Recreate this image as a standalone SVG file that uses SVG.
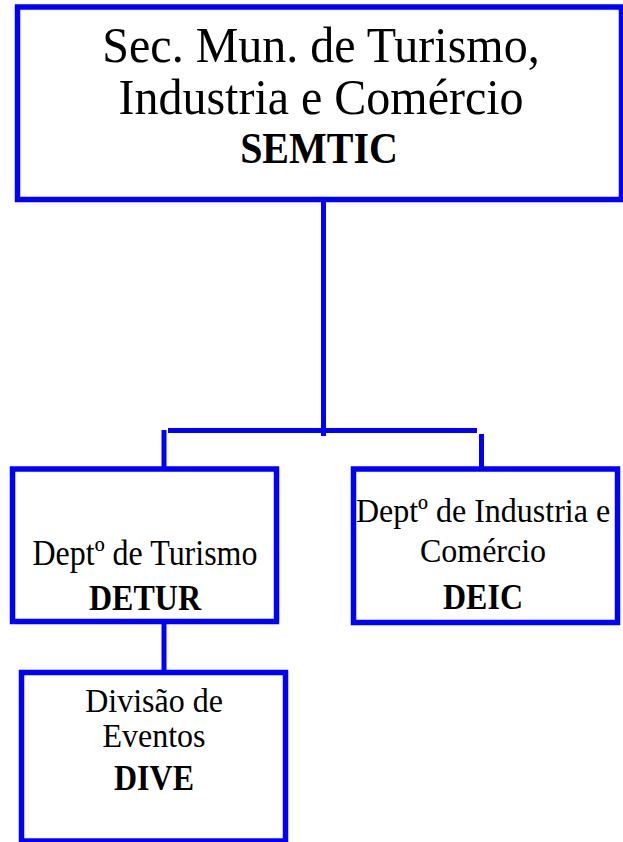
<svg xmlns="http://www.w3.org/2000/svg" width="623" height="842" viewBox="0 0 623 842">
<style>
.box{fill:#fff;stroke:#0000ff;stroke-width:5.5}
.ln{stroke:#0000ff;stroke-width:5;fill:none}
text{fill:#000;text-anchor:middle}
.big{font-size:48px}
.bigb{font-size:40px;font-weight:bold}
.sm{font-size:32px}
.smb{font-size:32px;font-weight:bold}
</style>
<rect width="623" height="842" fill="#fff"/>
<g id="connectors">
<line class="ln" x1="323.5" y1="199" x2="323.5" y2="436"/>
<line class="ln" x1="168" y1="430.5" x2="477" y2="430.5"/>
<line class="ln" x1="164" y1="430" x2="164" y2="469"/>
<line class="ln" x1="481.5" y1="434" x2="481.5" y2="469"/>
<line class="ln" x1="164" y1="621" x2="164" y2="672"/>
</g>
<g font-family="Liberation Serif, Times New Roman, Times, serif">
<g id="semtic">
<rect class="box" x="17.5" y="7" width="604" height="192.5"/>
<text class="big" transform="translate(321,62) scale(1,1.06)">Sec. Mun. de Turismo,</text>
<text class="big" transform="translate(321,114) scale(1,1.06)">Industria e Comércio</text>
<text class="bigb" transform="translate(319,163) scale(1,1.1)">SEMTIC</text>
</g>
<g id="detur">
<rect class="box" x="12.5" y="469" width="264" height="152.5"/>
<text class="sm" transform="translate(145,565) scale(1,1.1)">Deptº de Turismo</text>
<text class="smb" transform="translate(145,610) scale(1,1.1)">DETUR</text>
</g>
<g id="deic">
<rect class="box" x="353.5" y="469" width="264" height="153.5"/>
<text class="sm" transform="translate(483,522) scale(1,1.06)">Deptº de Industria e</text>
<text class="sm" transform="translate(483,562) scale(1,1.06)">Comércio</text>
<text class="smb" transform="translate(483,609) scale(1,1.1)">DEIC</text>
</g>
<g id="dive">
<rect class="box" x="21.5" y="672.5" width="264" height="168.5"/>
<text class="sm" transform="translate(154,712) scale(1,1.04)">Divisão de</text>
<text class="sm" transform="translate(154,747) scale(1,1.04)">Eventos</text>
<text class="smb" transform="translate(154,790) scale(1,1.1)">DIVE</text>
</g>
</g>
</svg>
